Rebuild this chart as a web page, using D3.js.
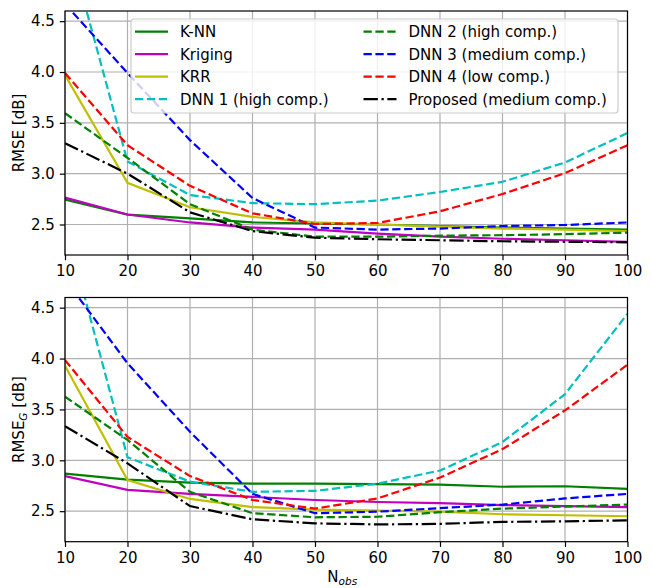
<!DOCTYPE html>
<html><head><meta charset="utf-8">
<script src="https://cdn.jsdelivr.net/npm/d3@7"></script>
<style>body{margin:0;background:#fff}svg{display:block}text{font-family:"DejaVu Sans",sans-serif}</style>
</head><body>
<svg id="c" width="652" height="588"></svg>
<script>
const nObs = [10,20,30,40,50,60,70,80,90,100];
const xTicks = [10,20,30,40,50,60,70,80,90,100];
const yTicks = [2.5,3.0,3.5,4.0,4.5];
const seriesNames = ["K-NN","Kriging","KRR","DNN 1 (high comp.)","DNN 2 (high comp.)","DNN 3 (medium comp.)","DNN 4 (low comp.)","Proposed (medium comp.)"];

// Top panel: RMSE [dB]
const knnRmse      = [2.745,2.598,2.56,2.52,2.51,2.50,2.485,2.47,2.46,2.45];
const krigingRmse  = [2.765,2.598,2.52,2.47,2.45,2.41,2.38,2.36,2.345,2.33];
const krrRmse      = [3.97,2.91,2.67,2.575,2.52,2.50,2.48,2.46,2.45,2.435];
const dnn1Rmse     = [5.38,3.12,2.79,2.71,2.70,2.735,2.82,2.92,3.11,3.40];
const dnn2Rmse     = [3.595,3.155,2.70,2.45,2.38,2.38,2.39,2.395,2.405,2.42];
const dnn3Rmse     = [4.67,3.99,3.33,2.76,2.47,2.45,2.46,2.485,2.495,2.52];
const dnn4Rmse     = [3.99,3.28,2.88,2.61,2.505,2.515,2.63,2.80,3.005,3.28];
const proposedRmse = [3.30,3.00,2.62,2.435,2.37,2.355,2.345,2.335,2.33,2.325];

// Bottom panel: RMSE_G [dB]
const knnRmseG      = [2.87,2.81,2.78,2.77,2.77,2.765,2.76,2.74,2.745,2.72];
const krigingRmseG  = [2.845,2.71,2.67,2.64,2.61,2.59,2.58,2.56,2.55,2.54];
const krrRmseG      = [3.93,2.805,2.62,2.54,2.515,2.505,2.495,2.47,2.46,2.45];
const dnn1RmseG     = [5.33,3.03,2.79,2.69,2.70,2.77,2.90,3.18,3.65,4.44];
const dnn2RmseG     = [3.625,3.20,2.69,2.48,2.44,2.445,2.49,2.525,2.545,2.565];
const dnn3RmseG     = [4.78,3.954,3.28,2.67,2.48,2.495,2.53,2.565,2.625,2.67];
const dnn4RmseG     = [3.985,3.23,2.845,2.61,2.525,2.625,2.83,3.11,3.49,3.94];
const proposedRmseG = [3.335,2.97,2.55,2.42,2.38,2.37,2.375,2.395,2.40,2.41];

const colors = ["#008000","#bf00bf","#bfbf00","#00bfbf","#008000","#0000ff","#ff0000","#000000"];
const dashes = [null,null,null,"8.3,3.6","8.3,3.6","8.3,3.6","8.3,3.6","14.4,3.6,2.25,3.6"];

const svg = d3.select("#c");
const FS = 15;
const L = 65, R = 627.5;
const x = d3.scaleLinear().domain([10,100]).range([L,R]);

function panel(id, top, bottom, data, labelParts, showLegend, showXLabel){
  const y = d3.scaleLinear().domain([2.2,4.6]).range([bottom, top]);
  const g = svg.append("g");
  g.append("clipPath").attr("id","clip"+id).append("rect")
    .attr("x",L).attr("y",top).attr("width",R-L).attr("height",bottom-top);
  // grid
  g.append("g").selectAll("line").data(xTicks).join("line")
    .attr("x1",d=>x(d)).attr("x2",d=>x(d)).attr("y1",top).attr("y2",bottom)
    .attr("stroke","#b0b0b0").attr("stroke-width",1.2);
  g.append("g").selectAll("line").data(yTicks).join("line")
    .attr("y1",d=>y(d)).attr("y2",d=>y(d)).attr("x1",L).attr("x2",R)
    .attr("stroke","#b0b0b0").attr("stroke-width",1.2);
  // lines
  const line = d3.line().x((d,i)=>x(nObs[i])).y(d=>y(d));
  const lg = g.append("g").attr("clip-path","url(#clip"+id+")");
  data.forEach((arr,k)=>{
    const p = lg.append("path").attr("d",line(arr)).attr("fill","none")
      .attr("stroke",colors[k]).attr("stroke-width",2.2);
    if(dashes[k]) p.attr("stroke-dasharray",dashes[k]);
  });
  // axes
  const xa = g.append("g").attr("transform",`translate(0,${bottom})`)
    .call(d3.axisBottom(x).tickValues(xTicks).tickSize(5.25).tickPadding(5).tickFormat(d3.format("d")));
  const ya = g.append("g").attr("transform",`translate(${L},0)`)
    .call(d3.axisLeft(y).tickValues(yTicks).tickSize(5.25).tickPadding(5).tickFormat(d3.format(".1f")));
  [xa,ya].forEach(a=>{
    a.select(".domain").remove();
    a.selectAll("text").attr("font-size",FS).attr("fill","#000").attr("font-family","DejaVu Sans");
    a.selectAll("line").attr("stroke","#000").attr("stroke-width",1.2);
  });
  g.append("rect").attr("x",L).attr("y",top).attr("width",R-L).attr("height",bottom-top)
    .attr("fill","none").attr("stroke","#000").attr("stroke-width",1.2);
  // y label
  const yl = g.append("text").attr("transform",`translate(24,${(top+bottom)/2}) rotate(-90)`)
    .attr("text-anchor","middle").attr("font-size",FS);
  yl.append("tspan").text(labelParts[0]);
  if(labelParts[1]){
    yl.append("tspan").attr("font-size",FS*0.7).attr("font-style","italic").attr("dy",3).text(labelParts[1]);
    yl.append("tspan").attr("dy",-3).text(labelParts[2]);
  }
  if(showXLabel){
    const xl = svg.append("text").attr("x",(L+R)/2 - 4).attr("y",582).attr("text-anchor","middle").attr("font-size",FS);
    xl.append("tspan").text("N");
    xl.append("tspan").attr("font-size",FS*0.7).attr("font-style","italic").attr("dy",3).text("obs");
  }
  if(showLegend){
    const lx = 131, ly = 19, lw = 487, lh = 94;
    const leg = g.append("g");
    leg.append("rect").attr("x",lx).attr("y",ly).attr("width",lw).attr("height",lh).attr("rx",3)
      .attr("fill","#fff").attr("fill-opacity",0.8).attr("stroke","#cccccc").attr("stroke-width",1.2);
    seriesNames.forEach((name,k)=>{
      const col = Math.floor(k/4), row = k%4;
      const hx = col===0 ? 135 : 363.5;
      const tx = col===0 ? 180 : 408.5;
      const yy = 31.7 + row*22.5;
      const h = leg.append("line").attr("x1",hx).attr("x2",hx+33).attr("y1",yy).attr("y2",yy)
        .attr("stroke",colors[k]).attr("stroke-width",2.2);
      if(dashes[k]) h.attr("stroke-dasharray",dashes[k]);
      leg.append("text").attr("x",tx).attr("y",yy+5.5).attr("font-size",FS).text(name);
    });
  }
}

panel("a",11,255,[knnRmse,krigingRmse,krrRmse,dnn1Rmse,dnn2Rmse,dnn3Rmse,dnn4Rmse,proposedRmse],["RMSE [dB]"],true,false);
panel("b",297.5,541.7,[knnRmseG,krigingRmseG,krrRmseG,dnn1RmseG,dnn2RmseG,dnn3RmseG,dnn4RmseG,proposedRmseG],["RMSE","G"," [dB]"],false,true);
</script>
</body></html>
